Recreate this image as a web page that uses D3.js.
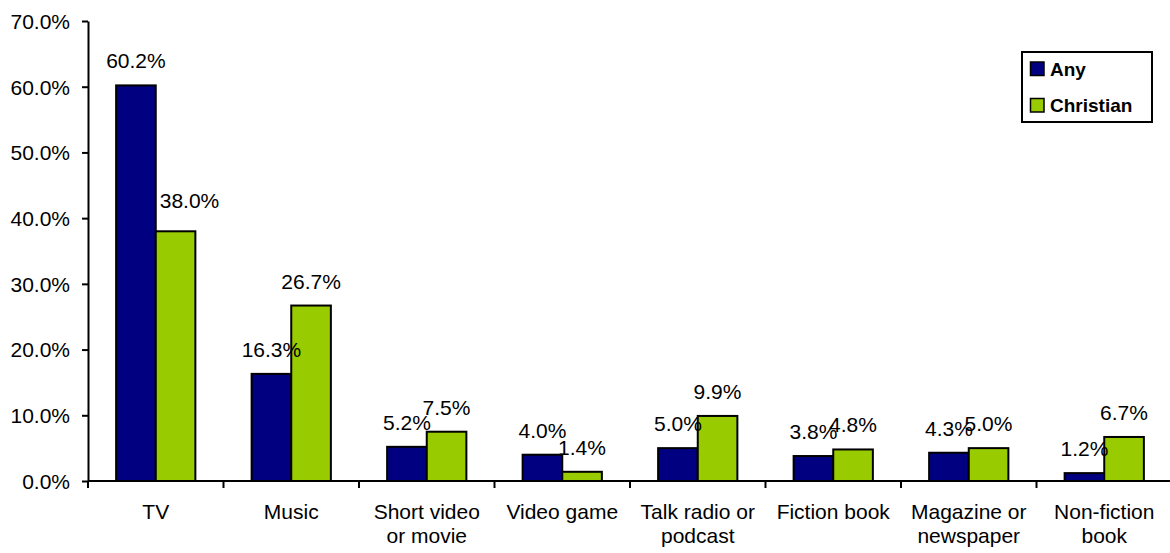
<!DOCTYPE html>
<html><head><meta charset="utf-8">
<script src="https://cdn.jsdelivr.net/npm/d3@7/dist/d3.min.js"></script>
<style>body{margin:0;background:#fff}svg{display:block;font-family:"Liberation Sans",Arial,sans-serif}</style>
</head><body><svg id="c" width="1170" height="553"></svg>
<script>
const categories = [["TV"],["Music"],["Short video","or movie"],["Video game"],["Talk radio or","podcast"],["Fiction book"],["Magazine or","newspaper"],["Non-fiction","book"]];
const anyValues = [60.2,16.3,5.2,4.0,5.0,3.8,4.3,1.2];
const christianValues = [38.0,26.7,7.5,1.4,9.9,4.8,5.0,6.7];
const seriesNames = ["Any","Christian"];
const yTicks = [0,10,20,30,40,50,60,70];
const colors = ["#000080","#99CC00"];

const svg = d3.select("#c");
const mLeft = 88, mRight = 1172, mTop = 21, mBottom = 481;
const FS = 21;
const x = d3.scaleBand().domain(d3.range(categories.length)).range([mLeft, mRight]).paddingInner(0).paddingOuter(0);
const y = d3.scaleLinear().domain([0,70]).range([mBottom, mTop]);
const inner = d3.scaleBand().domain([0,1]).range([0, x.bandwidth()]).paddingInner(0).paddingOuter(0.71);

// y axis
const yAxis = svg.append("g").attr("transform",`translate(${mLeft},0)`)
  .call(d3.axisLeft(y).tickValues(yTicks).tickFormat(d=>d.toFixed(1)+"%").tickSize(6).tickSizeOuter(0));
yAxis.select(".domain").attr("stroke","#000").attr("stroke-width",2);
yAxis.selectAll(".tick line").attr("stroke","#000").attr("stroke-width",2);
yAxis.selectAll(".tick text").attr("font-size",FS).attr("fill","#000").attr("x",-18).attr("dy","0.35em").attr("font-family","Liberation Sans, Arial, sans-serif");

const series = [anyValues, christianValues];
series.forEach((vals,si)=>{
  svg.append("g").selectAll("rect").data(vals).join("rect")
    .attr("x",(d,i)=>x(i)+inner(si))
    .attr("y",d=>y(d))
    .attr("width",inner.bandwidth())
    .attr("height",d=>y(0)-y(d))
    .attr("fill",colors[si]).attr("stroke","#000").attr("stroke-width",2);
});
series.forEach((vals,si)=>{
  const g = svg.append("g");
  vals.forEach((d,i)=>{
    const t = g.append("text")
      .attr("x",x(i)+inner(si)+inner.bandwidth()/2)
      .attr("y",y(d)-17)
      .attr("text-anchor","middle").attr("font-size",FS).attr("fill","#000")
      .text(d.toFixed(1)+"%");
    if (si===1) {
      // avoid overlapping a much taller neighbouring bar (as the original does)
      const w = t.node().getComputedTextLength();
      const anyRight = x(i)+inner(0)+inner.bandwidth();
      const cx = x(i)+inner(1)+inner.bandwidth()/2;
      if (y(anyValues[i]) < y(d)-17-16 && cx - w/2 < anyRight) {
        t.attr("x", anyRight + 4 + w/2).attr("y", y(d)-23);
      }
    }
  });
});

// x axis
const xAxis = svg.append("g").attr("transform",`translate(0,${mBottom})`);
xAxis.append("line").attr("x1",mLeft).attr("x2",mRight).attr("stroke","#000").attr("stroke-width",2);
xAxis.selectAll("line.t").data(d3.range(categories.length+1)).join("line").attr("class","t")
  .attr("x1",i=>mLeft+i*x.bandwidth()).attr("x2",i=>mLeft+i*x.bandwidth()).attr("y1",0).attr("y2",7)
  .attr("stroke","#000").attr("stroke-width",2);
categories.forEach((lines,i)=>{
  const t = xAxis.append("text").attr("text-anchor","middle").attr("font-size",FS).attr("fill","#000")
    .attr("x",x(i)+x.bandwidth()/2);
  lines.forEach((l,j)=>t.append("tspan").attr("x",x(i)+x.bandwidth()/2).attr("y",38+ j*24).text(l));
});

// legend
const lg = svg.append("g");
lg.append("rect").attr("x",1022).attr("y",52).attr("width",130).attr("height",70).attr("fill","#fff").attr("stroke","#000").attr("stroke-width",2);
seriesNames.forEach((n,i)=>{
  const yy = 68.5 + i*36.5;
  lg.append("rect").attr("x",1030.5).attr("y",yy-6.5).attr("width",13.5).attr("height",13.5).attr("fill",colors[i]).attr("stroke","#000").attr("stroke-width",1.5);
  lg.append("text").attr("x",1050).attr("y",yy+7).attr("font-size",19).attr("font-weight","bold").attr("fill","#000").text(n);
});
</script></body></html>
